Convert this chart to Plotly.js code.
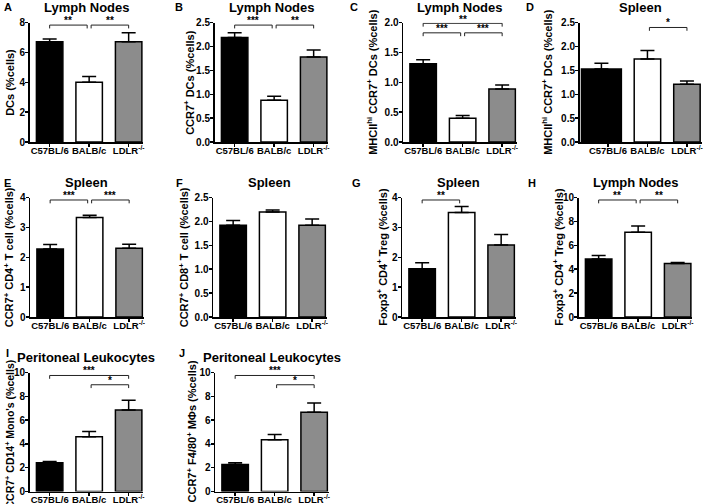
<!DOCTYPE html>
<html><head><meta charset="utf-8">
<script src="https://cdn.plot.ly/plotly-3.0.1.min.js"></script>
<style>html,body{margin:0;padding:0;background:#fff}#chart{width:709px;height:504px}</style>
</head><body><div id="chart"></div>
<script>
// ---- data ----
const categories = ['C57BL/6', 'BALB/c', 'LDLR<sup>-/-</sup>'];

const valsA = [6.73, 4.00, 6.73];  const errA = [0.18, 0.40, 0.60];
const valsB = [2.19, 0.875, 1.78]; const errB = [0.10, 0.085, 0.15];
const valsC = [1.31, 0.40, 0.89];  const errC = [0.07, 0.045, 0.065];
const valsD = [1.53, 1.74, 1.21];  const errD = [0.12, 0.18, 0.07];
const valsE = [2.28, 3.33, 2.30];  const errE = [0.15, 0.08, 0.14];
const valsF = [1.92, 2.20, 1.92];  const errF = [0.10, 0.04, 0.13];
const valsG = [1.62, 3.50, 2.41];  const errG = [0.20, 0.20, 0.35];
const valsH = [4.85, 7.10, 4.48];  const errH = [0.30, 0.53, 0.09];
const valsI = [2.42, 4.60, 6.85];  const errI = [0.11, 0.44, 0.81];
const valsJ = [2.26, 4.35, 6.66];  const errJ = [0.16, 0.44, 0.78];

// significance comparisons: [from index, to index, label]
const sigA = [[0, 1, '**'], [1, 2, '**']];
const sigB = [[0, 1, '***'], [1, 2, '**']];
const sigC = [[0, 1, '***'], [1, 2, '***'], [0, 2, '**']];
const sigD = [[1, 2, '*']];
const sigE = [[0, 1, '***'], [1, 2, '***']];
const sigF = [];
const sigG = [[0, 1, '**']];
const sigH = [[0, 1, '**'], [1, 2, '**']];
const sigI = [[0, 2, '***'], [1, 2, '*']];
const sigJ = [[0, 2, '***'], [1, 2, '*']];

const letters = ['A','B','C','D','E','F','G','H','I','J'];
const titles = ['Lymph Nodes','Lymph Nodes','Lymph Nodes','Spleen','Spleen','Spleen','Spleen','Lymph Nodes','Peritoneal Leukocytes','Peritoneal Leukocytes'];
const yTitles = [
  'DCs (%cells)',
  'CCR7<sup>+</sup> DCs (%cells)',
  'MHCII<sup>hi</sup> CCR7<sup>+</sup> DCs (%cells)',
  'MHCII<sup>hi</sup> CCR7<sup>+</sup> DCs (%cells)',
  'CCR7<sup>+</sup> CD4<sup>+</sup> T cell (%cells)',
  'CCR7<sup>+</sup> CD8<sup>+</sup> T cell (%cells)',
  'Foxp3<sup>+</sup> CD4<sup>+</sup> Treg (%cells)',
  'Foxp3<sup>+</sup> CD4<sup>+</sup> Treg (%cells)',
  'CCR7<sup>+</sup> CD14<sup>+</sup> Mono\'s (%cells)',
  'CCR7<sup>+</sup> F4/80<sup>+</sup> MΦs (%cells)'
];
const yMax = [8, 2.5, 2, 2.5, 4, 2.5, 4, 10, 10, 10];
const yDtick = [2, 0.5, 0.5, 0.5, 1, 0.5, 1, 2, 2, 2];

const allVals = [valsA,valsB,valsC,valsD,valsE,valsF,valsG,valsH,valsI,valsJ];
const allErr = [errA,errB,errC,errD,errE,errF,errG,errH,errI,errJ];
const allSig = [sigA,sigB,sigC,sigD,sigE,sigF,sigG,sigH,sigI,sigJ];

// ---- layout geometry (pixels) ----
const W = 709, H = 504;
const rows = [[22.7, 142.0], [197.6, 317.0], [372.5, 491.5]];
const axisX = [29.5, 214.5, 403, 579.5, 30, 213, 402, 578.5, 29.5, 215];
const yTitleOffset = [-19, -25, -30.5, -32, -21, -29, -19.5, -20, -21, -23.5];
const yTitleSize = [11, 11, 11, 11, 11, 11, 11, 11, 10.5, 11];
const rowOf = [0,0,0,0,1,1,1,1,2,2];
const pxPerUnit = 39.5;
const letterPos = [[8,7],[179,7],[354,7],[530,7],[7,183],[179,183],[356,183],[532,183],[7,353],[182,353]];

const barColors = ['#000000', '#ffffff', '#8c8c8c'];
const FONT = 'Liberation Sans, Arial, sans-serif';

const traces = [];
const layout = {
  width: W, height: H, margin: {l:0, r:0, t:0, b:0},
  paper_bgcolor: '#fff', plot_bgcolor: '#fff', showlegend: false,
  shapes: [], annotations: [],
  font: {family: FONT, color: '#000'}
};

for (let p = 0; p < 10; p++) {
  const sfx = p === 0 ? '' : String(p + 1);
  const xa = 'x' + sfx, ya = 'y' + sfx;
  const isD = p === 3;
  const xr = isD ? [-0.72, 2.39] : [-0.51, 2.37];
  const x0px = axisX[p];
  const x1px = x0px + (xr[1] - xr[0]) * pxPerUnit;
  const [top, bot] = rows[rowOf[p]];
  const idx = allVals[p].map((_, i) => i);

  const bar = {
    type: 'bar', x: idx, y: allVals[p], xaxis: xa, yaxis: ya,
    marker: {color: barColors, line: {color: '#000', width: 1.5}},
    width: isD ? [1.01, 0.67, 0.67] : 0.67,
    error_y: {type: 'data', symmetric: false, array: allErr[p], arrayminus: allErr[p].map(() => 0),
              color: '#000', thickness: 1.5, width: 7},
    hoverinfo: 'skip'
  };
  if (isD) bar.offset = [-0.67, -0.335, -0.335];
  traces.push(bar);

  layout['xaxis' + sfx] = {
    domain: [x0px / W, x1px / W], anchor: ya, range: xr, fixedrange: true,
    tickvals: idx, ticktext: categories,
    tickfont: {family: FONT, size: 9.5, color: '#000', weight: 'bold'},
    showline: true, linecolor: '#000', linewidth: 1.5, ticks: 'outside', ticklen: 3, tickwidth: 1.5,
    tickcolor: '#000', showgrid: false, zeroline: false, ticklabelstandoff: -4
  };
  const ticks = [];
  for (let v = 0; v <= yMax[p] + 1e-9; v += yDtick[p]) ticks.push(+v.toFixed(2));
  layout['yaxis' + sfx] = {
    domain: [1 - bot / H, 1 - top / H], anchor: xa, range: [0, yMax[p]], fixedrange: true,
    tickvals: ticks, tickformat: yDtick[p] < 1 ? '.1f' : 'd',
    tickfont: {family: FONT, size: 10, color: '#000', weight: 'bold'},
    showline: true, linecolor: '#000', linewidth: 1.5, ticks: 'outside', ticklen: 3, tickwidth: 1.5,
    tickcolor: '#000', showgrid: false, zeroline: false, ticklabelstandoff: -2
  };

  // y-axis title (rotated text beside the axis)
  layout.annotations.push({
    xref: 'paper', yref: 'paper', x: (x0px + yTitleOffset[p]) / W, y: 1 - ((top + bot) / 2 + (p === 8 ? 2 : 0)) / H,
    xanchor: 'center', yanchor: 'middle', textangle: -90, text: yTitles[p], showarrow: false,
    font: {family: FONT, size: yTitleSize[p], color: '#000', weight: 'bold'}
  });

  // significance brackets
  const sigs = allSig[p];
  const drop = yMax[p] * 0.028;
  sigs.forEach(s => {
    const [i, j, lab] = s;
    let level;
    const isTop = i === 0 && j === 2 && sigs.length === 3;
    if (isTop) level = yMax[p] * 0.995;                                             // top bracket (C)
    else if (i === 0 && j === 2) level = yMax[p] * 0.975;                           // outer bracket (I,J)
    else if (sigs.length === 3) level = yMax[p] * 0.915;                            // inner brackets (C)
    else if (sigs.some(t => t[0] === 0 && t[1] === 2)) level = yMax[p] * 0.897;     // inner (I,J)
    else level = yMax[p] * (p === 3 ? 0.96 : 0.98);
    const xs = i + (i === 1 ? 0.05 : 0);
    const xe = j - (j === 1 ? 0.05 : 0);
    const ln = {type: 'line', xref: xa, yref: ya, line: {color: '#222', width: 1}};
    layout.shapes.push(Object.assign({}, ln, {x0: xs, x1: xe, y0: level, y1: level}));
    layout.shapes.push(Object.assign({}, ln, {x0: xs, x1: xs, y0: level, y1: level - drop}));
    layout.shapes.push(Object.assign({}, ln, {x0: xe, x1: xe, y0: level, y1: level - drop}));
    layout.annotations.push({
      xref: xa, yref: ya, x: (xs + xe) / 2, y: level, yanchor: 'bottom', xanchor: 'center',
      text: lab, showarrow: false, yshift: isTop ? -4 : -3,
      font: {family: FONT, size: 10, color: '#000', weight: 'bold'}
    });
  });

  // panel title (centered over plot area) and letter
  layout.annotations.push({
    xref: 'paper', yref: 'paper', x: ((x0px + x1px) / 2) / W, y: 1 - (top - 15.5) / H,
    xanchor: 'center', yanchor: 'middle', text: titles[p], showarrow: false,
    font: {family: FONT, size: 13, color: '#000', weight: 'bold'}
  });
  layout.annotations.push({
    xref: 'paper', yref: 'paper', x: letterPos[p][0] / W, y: 1 - letterPos[p][1] / H,
    xanchor: 'center', yanchor: 'middle', text: letters[p], showarrow: false,
    font: {family: FONT, size: 11, color: '#000', weight: 'bold'}
  });
}

Plotly.newPlot('chart', traces, layout, {staticPlot: true, displayModeBar: false});
</script></body></html>
